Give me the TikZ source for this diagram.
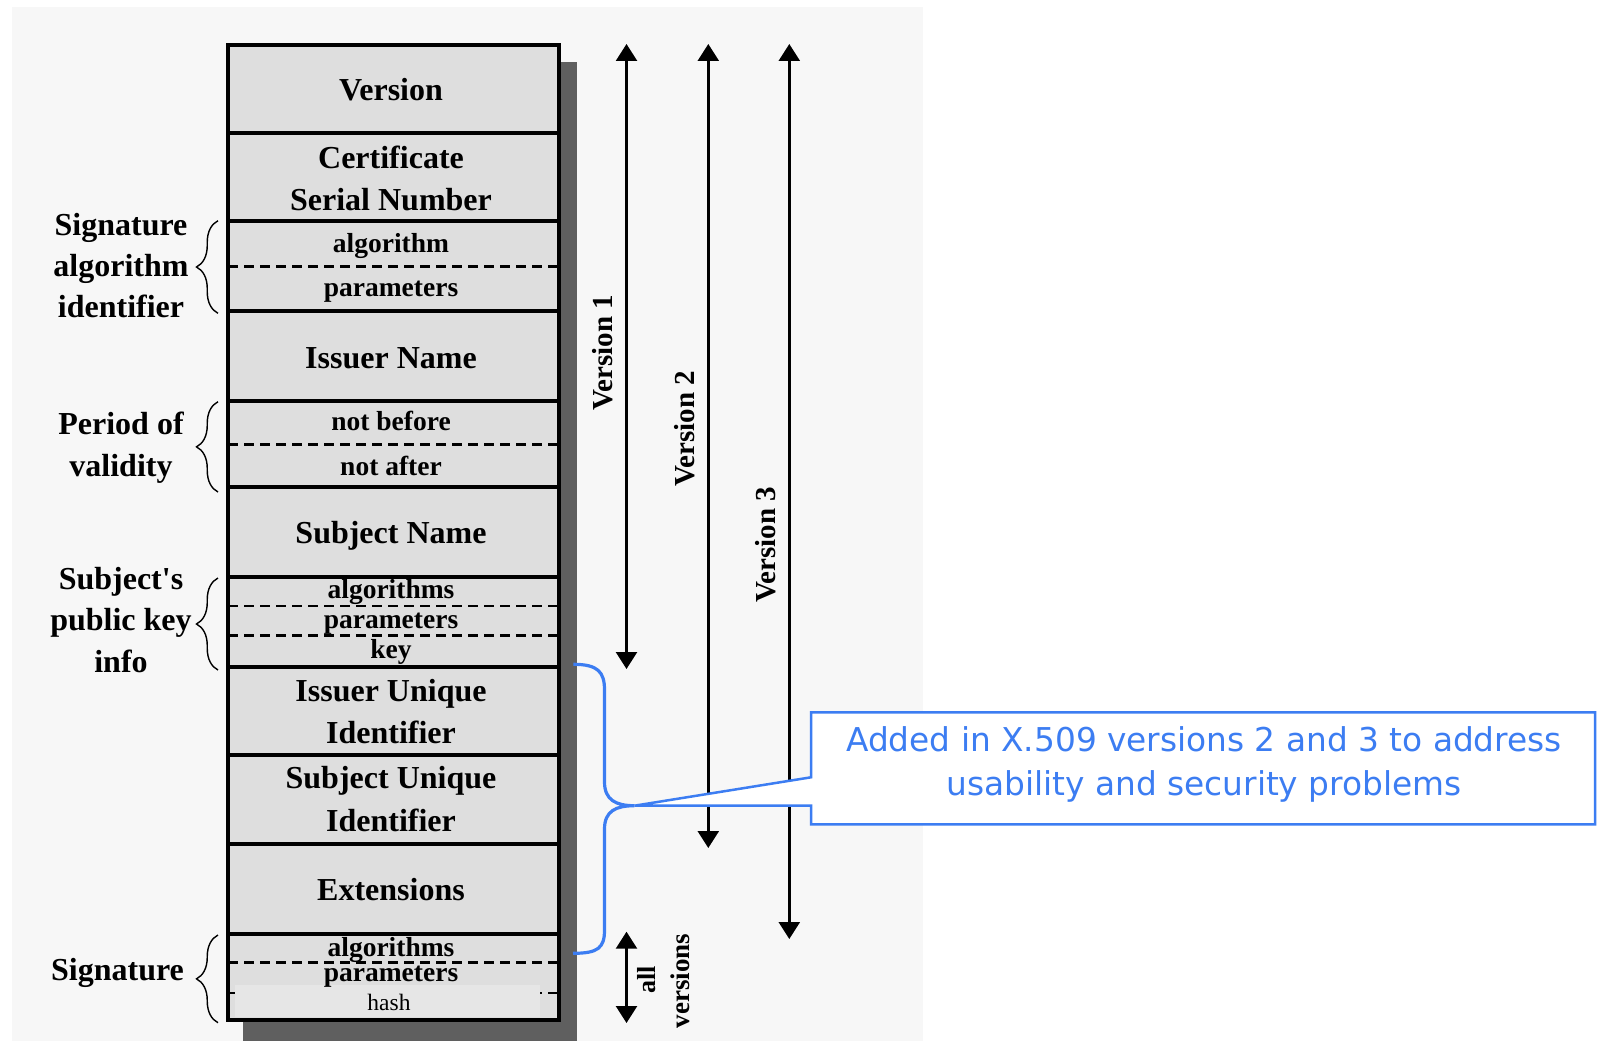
\documentclass[tikz,border=0pt]{standalone}
\usepackage{fontspec}
\setmainfont{Liberation Serif}
\newfontfamily\plainserif{Liberation Serif}
\newfontfamily\callfont{DejaVu Sans}
\usetikzlibrary{arrows.meta,decorations.pathreplacing}
\definecolor{bgc}{HTML}{F7F7F7}
\definecolor{rowc}{HTML}{DEDEDE}
\definecolor{patchc}{HTML}{E6E6E6}
\definecolor{shadc}{HTML}{5F5F5F}
\definecolor{bluec}{RGB}{60,125,242}
\begin{document}
\begin{tikzpicture}[x=1pt,y=-1pt,
  big/.style={font=\fontsize{32}{38}\selectfont\bfseries, anchor=base, inner sep=0pt},
  small/.style={font=\fontsize{27.5}{32}\selectfont\bfseries, anchor=base, inner sep=0pt},
  side/.style={font=\fontsize{32}{38}\selectfont\bfseries, anchor=base, inner sep=0pt},
  verlbl/.style={font=\fontsize{29}{34}\selectfont\bfseries, anchor=base, inner sep=0pt, rotate=90},
  rowline/.style={line width=4pt},
  dashline/.style={line width=2.5pt, dash pattern=on 10pt off 6pt},
  lbrace/.style={decorate, decoration={brace, amplitude=21.5pt}, line width=1.4pt},
  verarrow/.style={line width=2.5pt, {Triangle[width=21pt,length=17pt]}-{Triangle[width=21pt,length=17pt]}},
  callout/.style={font=\callfont\fontsize{32.8}{44}\selectfont, text=bluec, anchor=base, inner sep=0pt},
]
\useasboundingbox (0,0) rectangle (1602,1041);
\fill[white] (0,0) rectangle (1602,1041);
\fill[bgc] (12,7) rectangle (923,1041);
% shadow
\fill[shadc] (243,61.7) rectangle (576.5,1041);
% main box
\filldraw[fill=rowc, rowline] (228,44.7) rectangle (559,1019.5);
\foreach \yy in {133.3,220.7,310.7,400.7,487.3,577.3,667.3,755,844,934}
  \draw[rowline] (228,\yy) -- (559,\yy);
\foreach \yy in {266.7,444.3,606,635.7,962.7,993}
  \draw[dashline] (228,\yy) -- (559,\yy);
\fill[patchc] (235,985) rectangle (540,1017);

% field texts
\node[big] (tver) at (391,100) {Version};
\node[big] (tcert) at (391,168.3) {Certificate};
\node[big] (tser) at (391,210) {Serial Number};
\node[small] (talg1) at (391,252.7) {algorithm};
\node[small] (tpar1) at (391,296.7) {parameters};
\node[big] (tiss) at (391,368) {Issuer Name};
\node[small] (tnb) at (391,430) {not before};
\node[small] (tna) at (391,475.7) {not after};
\node[big] (tsub) at (391,543.3) {Subject Name};
\node[small] (talg2) at (391,598.3) {algorithms};
\node[small] (tpar2) at (391,628.3) {parameters};
\node[small] (tkey) at (391,658.3) {key};
\node[big] (tiu1) at (391,701.7) {Issuer Unique};
\node[big] (tiu2) at (391,743.3) {Identifier};
\node[big] (tsu1) at (391,788.3) {Subject Unique};
\node[big] (tsu2) at (391,831.7) {Identifier};
\node[big] (text) at (391,900) {Extensions};
\node[small] (talg3) at (391,956) {algorithms};
\node[small] (tpar3) at (391,981.7) {parameters};
\node[font=\fontsize{23.5}{28}\selectfont, anchor=base, inner sep=0pt] (thash) at (389,1010) {hash};

% side labels
\node[side] (sa1) at (121,235.5) {Signature};
\node[side] (sa2) at (121,276.5) {algorithm};
\node[side] (sa3) at (121,317.5) {identifier};
\node[side] (pv1) at (121,434) {Period of};
\node[side] (pv2) at (121,476.7) {validity};
\node[side] (pk1) at (121,589.3) {Subject{\plainserif\bfseries '}s};
\node[side] (pk2) at (121,630.5) {public key};
\node[side] (pk3) at (121,672.5) {info};
\node[side] (sg1) at (117.5,980) {Signature};

% braces
\draw[lbrace] (218,313.3) -- (218,220.7);
\draw[lbrace] (218,492) -- (218,401.7);
\draw[lbrace] (218,670) -- (218,578);
\draw[lbrace] (218,1022.7) -- (218,935);

% version arrows
\coordinate (v1a) at (626.5,44);
\coordinate (v1b) at (626.5,669);
\coordinate (v2a) at (708.3,44);
\coordinate (v2b) at (708.3,848);
\coordinate (v3a) at (789.3,44);
\coordinate (v3b) at (789.3,939);
\coordinate (ava) at (626.5,931.7);
\coordinate (avb) at (626.5,1023);
\draw[verarrow] (v1a) -- (v1b);
\draw[verarrow] (v2a) -- (v2b);
\draw[verarrow] (v3a) -- (v3b);
\draw[verarrow] (ava) -- (avb);
\node[verlbl] (lv1) at (612.5,353) {Version 1};
\node[verlbl] (lv2) at (694,429) {Version 2};
\node[verlbl] (lv3) at (775,545) {Version 3};
\node[verlbl, font=\fontsize{26}{30}\selectfont\bfseries] (lall) at (655,980) {all};
\node[verlbl, font=\fontsize{27}{30}\selectfont\bfseries] (lvers) at (689,981) {versions};

% blue brace and callout
\coordinate (bb1) at (573.3,664.3);
\coordinate (btip) at (634.4,805.7);
\coordinate (bb2) at (573,953.3);
\draw[bluec, line width=3.2pt]
  (bb1) .. controls (598,664.3) and (604.5,672) .. (604.5,690) -- (604.5,782)
  .. controls (604.5,800) and (616,805.7) .. (btip)
  .. controls (616,805.7) and (604.5,811) .. (604.5,829) -- (604.5,930)
  .. controls (604.5,948) and (598,953.3) .. (bb2);
\filldraw[fill=white, draw=bluec, line width=2.5pt, line join=miter]
  (811,712.3) -- (1595,712.3) -- (1595,824.3) -- (811,824.3) -- (811,805.7)
  -- (btip) -- (811,777.3) -- cycle;
\node[callout] (c1) at (1204,751) {Added in X.509 versions 2 and 3 to address};
\node[callout] (c2) at (1204,795) {usability and security problems};
\end{tikzpicture}
\end{document}
